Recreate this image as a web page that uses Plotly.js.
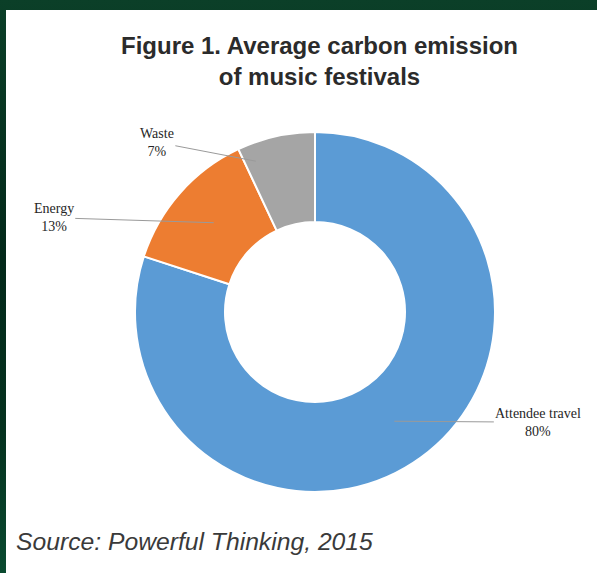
<!DOCTYPE html>
<html>
<head>
<meta charset="utf-8">
<script src="https://cdn.plot.ly/plotly-3.0.1.min.js"></script>
<style>
  html, body { margin: 0; padding: 0; }
  body { width: 597px; height: 573px; overflow: hidden;
         background: linear-gradient(180deg, #0b3f28 0%, #03291a 45%, #05321f 75%, #0a4a30 100%); }
  #chart { width: 597px; height: 573px; }
</style>
</head>
<body>
<div id="chart"></div>
<script>
// Average carbon emission of music festivals (share of total, %)
const categories = ["Attendee travel", "Energy", "Waste"];
const shares = [80, 13, 7];
const sliceColors = ["#5B9BD5", "#ED7D31", "#A5A5A5"];

const W = 597, H = 573;
// donut geometry in pixels
const cx = 315, cy = 312, R = 180;

// where each leader line touches its slice: position along the slice's arc (0..1)
// and radius (fraction of R); then the label offset from that point (px)
const tipAlong = [0.5, 0.5, 0.15];
const tipRadius = [0.75, 0.75, 0.9];
const labelOffset = [[144, 1], [-160, -5], [-99, -19]];

const total = shares.reduce((a, b) => a + b, 0);
const annotations = [];
let cum = 0;
shares.forEach((v, i) => {
  const ang = (cum + v * tipAlong[i]) / total * 2 * Math.PI; // clockwise from 12 o'clock
  cum += v;
  const r = tipRadius[i] * R;
  const tx = cx + r * Math.sin(ang);
  const ty = cy - r * Math.cos(ang);
  annotations.push({
    xref: "paper", yref: "paper",
    x: tx / W, y: 1 - ty / H,
    ax: labelOffset[i][0], ay: labelOffset[i][1],
    axref: "pixel", ayref: "pixel",
    text: categories[i] + "<br>" + v + "%",
    showarrow: true, arrowhead: 0, arrowwidth: 1, arrowcolor: "#9a9a9a",
    standoff: 0, startstandoff: 0,
    font: { family: "Liberation Serif, Times New Roman, serif", size: 14, color: "#262626" },
    align: "center"
  });
});

// chart heading
annotations.push({
  xref: "paper", yref: "paper", x: 319 / W, y: 1 - 61 / H,
  xanchor: "center", yanchor: "middle", showarrow: false,
  text: "<b>Figure 1. Average carbon emission<br>of music festivals</b>",
  font: { family: "Liberation Sans, Arial, sans-serif", size: 24, color: "#2b2b2b" },
  align: "center"
});
// source note
annotations.push({
  xref: "paper", yref: "paper", x: 14 / W, y: 1 - 541 / H,
  xanchor: "left", yanchor: "middle", showarrow: false,
  text: "<i>Source: Powerful Thinking, 2015</i>",
  font: { family: "Liberation Sans, Arial, sans-serif", size: 24.7, color: "#3a3a3a" }
});

const trace = {
  type: "pie",
  labels: categories,
  values: shares,
  hole: 0.5,
  sort: false,
  direction: "clockwise",
  rotation: 0,
  textinfo: "none",
  hoverinfo: "label+percent",
  marker: { colors: sliceColors, line: { color: "#ffffff", width: 2 } },
  domain: {
    x: [(cx - R) / W, (cx + R) / W],
    y: [1 - (cy + R) / H, 1 - (cy - R) / H]
  },
  showlegend: false
};

const layout = {
  width: W, height: H,
  margin: { l: 0, r: 0, t: 0, b: 0 },
  paper_bgcolor: "rgba(0,0,0,0)",
  plot_bgcolor: "rgba(0,0,0,0)",
  showlegend: false,
  shapes: [{
    type: "rect", layer: "below", xref: "paper", yref: "paper",
    x0: 6 / W, x1: 1, y0: 0, y1: 1 - 10 / H,
    fillcolor: "#ffffff", line: { width: 0 }
  }],
  annotations: annotations
};

Plotly.newPlot("chart", [trace], layout, { displayModeBar: false, staticPlot: true });
</script>
</body>
</html>
